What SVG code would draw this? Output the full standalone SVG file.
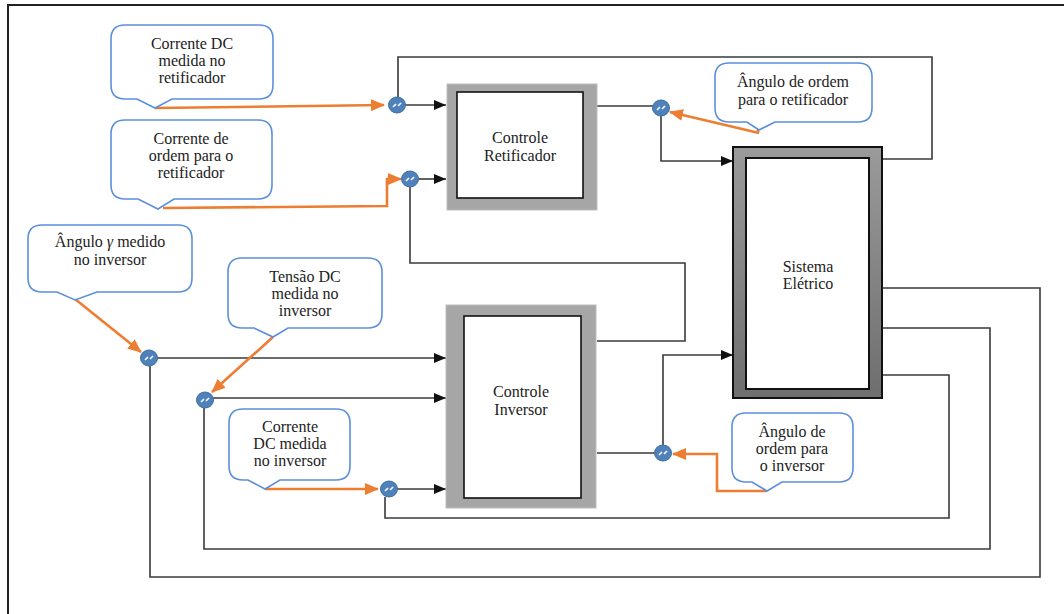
<svg xmlns="http://www.w3.org/2000/svg" width="1064" height="614" viewBox="0 0 1064 614">
<style>
.frame{fill:none;stroke:#222;stroke-width:2}
.call{fill:#fff;stroke:#5b8fdc;stroke-width:1.6}
.txt{font-family:'Liberation Serif','DejaVu Serif',serif;font-size:16px;fill:#222;text-anchor:middle}
.wire{fill:none;stroke:#3a3a3a;stroke-width:1.6}
.arr{marker-end:url(#ab)}
.or{fill:none;stroke:#ed7d31;stroke-width:2.6;marker-end:url(#ao)}
.ctl{fill:#a6a6a6;stroke:#bdbdbd;stroke-width:1}
.inner{fill:#fff;stroke:#111;stroke-width:1.6}
</style>
<defs>
<marker id="ab" markerUnits="userSpaceOnUse" markerWidth="12" markerHeight="10" refX="12" refY="5" orient="auto"><path d="M0,0 L12,5 L0,10 z" fill="#111"/></marker>
<marker id="ao" markerUnits="userSpaceOnUse" markerWidth="14" markerHeight="12" refX="13" refY="6" orient="auto"><path d="M0,0 L14,6 L0,12 z" fill="#ed7d31"/></marker>
<linearGradient id="sg" x1="0" y1="0" x2="0" y2="1"><stop offset="0" stop-color="#9a9a9a"/><stop offset="1" stop-color="#6e6e6e"/></linearGradient>
<g id="sum"><ellipse cx="0" cy="0" rx="8.5" ry="8" fill="#4f81bd" stroke="#41719c" stroke-width="1"/><path d="M-4,2 L-1,-1 M1,1 L4,-2" stroke="#fff" stroke-width="1.6" fill="none"/></g>
</defs>
<rect x="0" y="0" width="1064" height="614" fill="#fff"/>
<path class="frame" d="M8,614 V5 H1064"/>

<g id="connectors">
<path class="wire arr" d="M405,105 H446"/>
<path class="wire" d="M398,97 V57 H932 V159 H882"/>
<path class="wire arr" d="M418,179 H446"/>
<path class="wire" d="M410,187 V263 H685 V341 H597"/>
<path class="wire" d="M597,106 H653"/>
<path class="wire arr" d="M661,116 V161 H733"/>
<path class="wire arr" d="M157,358 H446"/>
<path class="wire" d="M150,366 V577 H1040 V288 H882"/>
<path class="wire arr" d="M213,398 H446"/>
<path class="wire" d="M204,408 V549 H990 V328 H882"/>
<path class="wire arr" d="M397,489 H446"/>
<path class="wire" d="M385,497 V518 H949 V375 H882"/>
<path class="wire" d="M597,453 H655"/>
<path class="wire arr" d="M663,445 V355 H733"/>
<path class="or" d="M155,108 L384,105"/>
<path class="or" d="M163,208 L387,206 L387,179 L401,179"/>
<path class="or" d="M759,133 L670,112"/>
<path d="M758,126 V133" stroke="#ed7d31" stroke-width="2.6"/>
<path class="or" d="M75,299 L141,352"/>
<path class="or" d="M273,337 L212,392"/>
<path class="or" d="M265,489 L378,489"/>
<path class="or" d="M767,491 H717 V454 H673"/>
</g>

<g id="sum1"><use href="#sum" x="397" y="105"/></g>
<g id="sum2"><use href="#sum" x="410" y="179"/></g>
<g id="sum3"><use href="#sum" x="661" y="108"/></g>
<g id="sum4"><use href="#sum" x="149" y="358"/></g>
<g id="sum5"><use href="#sum" x="205" y="400"/></g>
<g id="sum6"><use href="#sum" x="389" y="489"/></g>
<g id="sum7"><use href="#sum" x="663" y="453"/></g>

<g id="controle-retificador">
<rect class="ctl" x="447" y="84" width="150" height="126"/>
<rect class="inner" x="457" y="92" width="126" height="106"/>
<text class="txt" x="520" y="143">Controle</text>
<text class="txt" x="520" y="161">Retificador</text>
</g>
<g id="controle-inversor">
<rect class="ctl" x="446" y="305" width="150" height="203"/>
<rect class="inner" x="464" y="316" width="117" height="182"/>
<text class="txt" x="521" y="397">Controle</text>
<text class="txt" x="521" y="415">Inversor</text>
</g>
<g id="sistema-eletrico">
<rect x="733" y="147" width="149" height="251" fill="url(#sg)" stroke="#111" stroke-width="2"/>
<rect x="746" y="158" width="123" height="231" fill="#fff" stroke="#111" stroke-width="2"/>
<text class="txt" x="808" y="272">Sistema</text>
<text class="txt" x="808" y="289">Elétrico</text>
</g>

<g id="callout-dc-retificador">
<path class="call" d="M125,25 H259 Q273,25 273,39 V85 Q273,99 259,99 H172 L155,108 L137,99 H125 Q111,99 111,85 V39 Q111,25 125,25 Z"/>
<text class="txt" x="192" y="49">Corrente DC</text>
<text class="txt" x="192" y="66">medida no</text>
<text class="txt" x="192" y="83">retificador</text>
</g>
<g id="callout-ordem-retificador">
<path class="call" d="M125,120 H258 Q272,120 272,134 V185 Q272,199 258,199 H174 L158,209 L138,199 H125 Q111,199 111,185 V134 Q111,120 125,120 Z"/>
<text class="txt" x="191" y="144">Corrente de</text>
<text class="txt" x="191" y="161">ordem para o</text>
<text class="txt" x="191" y="178">retificador</text>
</g>
<g id="callout-angulo-retificador">
<path class="call" d="M729,63 H858 Q872,63 872,77 V108 Q872,122 858,122 H775 L759,130 L747,122 H729 Q715,122 715,108 V77 Q715,63 729,63 Z"/>
<text class="txt" x="793" y="87">Ângulo de ordem</text>
<text class="txt" x="793" y="105">para o retificador</text>
</g>
<g id="callout-gamma">
<path class="call" d="M42,225 H178 Q192,225 192,239 V278 Q192,292 178,292 H97 L75,300 L57,292 H42 Q28,292 28,278 V239 Q28,225 42,225 Z"/>
<text class="txt" x="110" y="247">Ângulo <tspan font-style="italic">γ</tspan>  medido</text>
<text class="txt" x="110" y="265">no inversor</text>
</g>
<g id="callout-tensao">
<path class="call" d="M242,258 H368 Q382,258 382,272 V314 Q382,328 368,328 H288 L273,337 L254,328 H242 Q228,328 228,314 V272 Q228,258 242,258 Z"/>
<text class="txt" x="305" y="282">Tensão DC</text>
<text class="txt" x="305" y="299">medida no</text>
<text class="txt" x="305" y="316">inversor</text>
</g>
<g id="callout-dc-inversor">
<path class="call" d="M243,409 H336 Q350,409 350,423 V466 Q350,480 336,480 H280 L265,489 L248,480 H243 Q229,480 229,466 V423 Q229,409 243,409 Z"/>
<text class="txt" x="290" y="432">Corrente</text>
<text class="txt" x="290" y="449">DC medida</text>
<text class="txt" x="290" y="466">no inversor</text>
</g>
<g id="callout-angulo-inversor">
<path class="call" d="M746,413 H839 Q853,413 853,427 V468 Q853,482 839,482 H782 L767,491 L752,482 H746 Q732,482 732,468 V427 Q732,413 746,413 Z"/>
<text class="txt" x="792" y="437">Ângulo de</text>
<text class="txt" x="792" y="454">ordem para</text>
<text class="txt" x="792" y="471">o inversor</text>
</g>
</svg>
